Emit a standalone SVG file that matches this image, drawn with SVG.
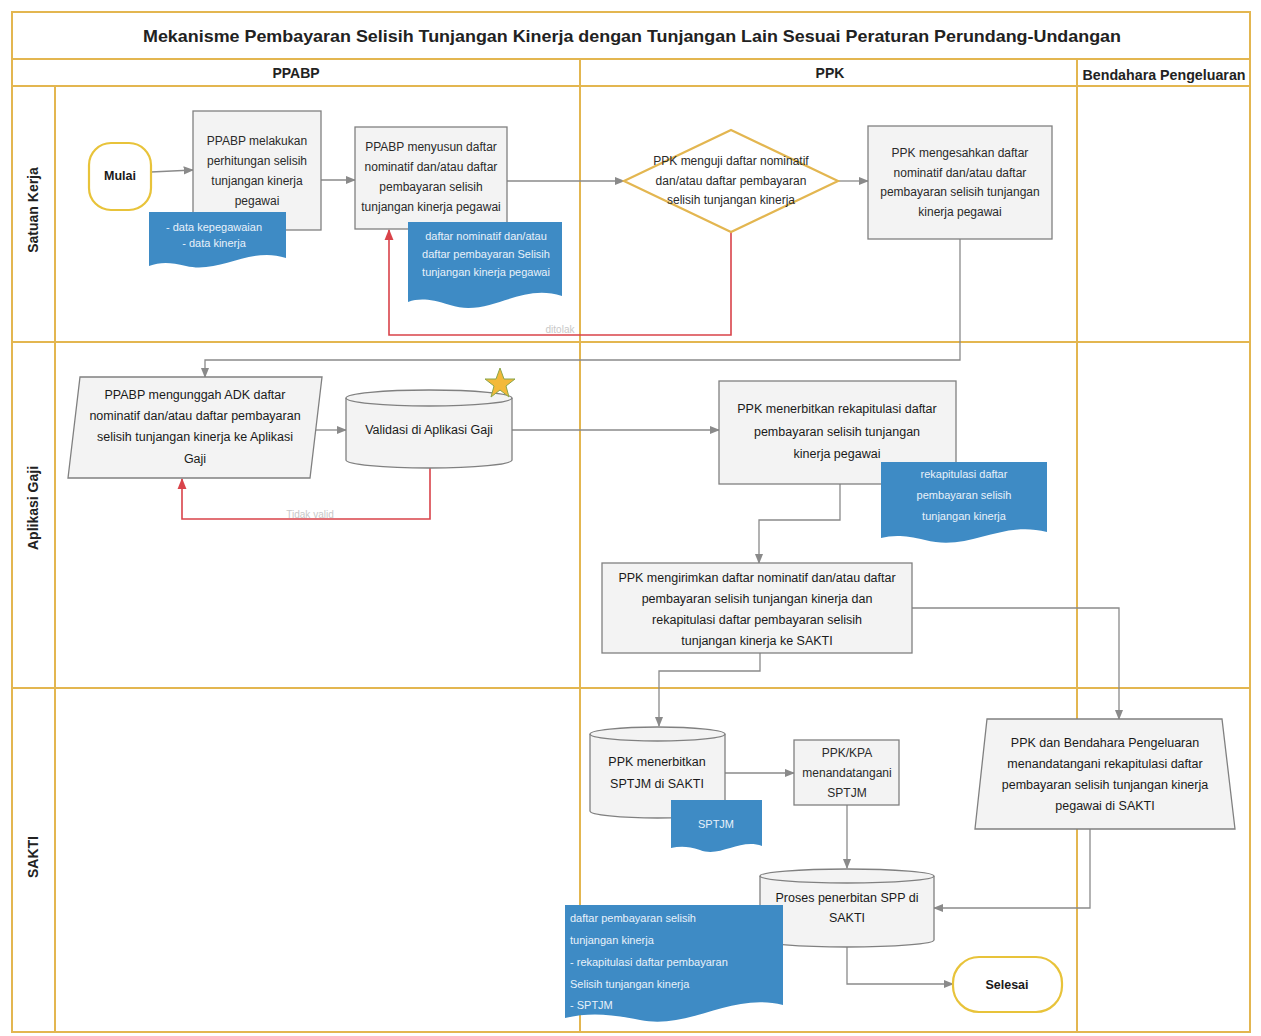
<svg xmlns="http://www.w3.org/2000/svg" width="1261" height="1036" viewBox="0 0 1261 1036">
<defs>
<style>
.lane{fill:none;stroke:#e3b650;stroke-width:2}
.box{fill:#f3f3f3;stroke:#808080;stroke-width:1.3}
.term{fill:#fff;stroke:#e8c33a;stroke-width:2.2}
.doc{fill:#3e8bc5}
.t{font-family:"Liberation Sans",Arial,sans-serif;font-size:12px;fill:#2a2a2a;text-anchor:middle}
.tb{font-family:"Liberation Sans",Arial,sans-serif;font-size:12.5px;fill:#1a1a1a;text-anchor:middle}
.tw{font-family:"Liberation Sans",Arial,sans-serif;font-size:11px;fill:#e8f1fa;text-anchor:middle}
.twl{font-family:"Liberation Sans",Arial,sans-serif;font-size:11px;fill:#e8f1fa}
.hd{font-family:"Liberation Sans Narrow","Liberation Sans",Arial,sans-serif;font-size:14px;font-weight:bold;fill:#222;text-anchor:middle}
.c{fill:none;stroke:#8a8a8a;stroke-width:1.3}
.r{fill:none;stroke:#d9434a;stroke-width:1.6}
.lbl{font-family:"Liberation Sans",Arial,sans-serif;font-size:10px;fill:#c8c8c8;text-anchor:middle}
</style>
<marker id="ag" viewBox="0 0 10 10" refX="9" refY="5" markerWidth="8" markerHeight="8" orient="auto"><path d="M0,1 L10,5 L0,9 z" fill="#8a8a8a"/></marker>
<marker id="ar" viewBox="0 0 10 10" refX="9" refY="5" markerWidth="7" markerHeight="7" orient="auto"><path d="M0,1 L10,5 L0,9 z" fill="#d9434a"/></marker>
</defs>
<rect width="1261" height="1036" fill="#fff"/>

<g id="frame">
<rect x="12" y="12" width="1238" height="1020" class="lane"/>
<line x1="12" y1="59" x2="1250" y2="59" class="lane"/>
<line x1="12" y1="86" x2="1250" y2="86" class="lane"/>
<line x1="55" y1="86" x2="55" y2="1032" class="lane"/>
<line x1="580" y1="59" x2="580" y2="1032" class="lane"/>
<line x1="1077" y1="59" x2="1077" y2="1032" class="lane"/>
<line x1="12" y1="342" x2="1250" y2="342" class="lane"/>
<line x1="12" y1="688" x2="1250" y2="688" class="lane"/>
<text x="632" y="42" font-family="'Liberation Sans Narrow','Liberation Sans',Arial,sans-serif" font-size="17" font-weight="bold" fill="#222" text-anchor="middle" textLength="978" lengthAdjust="spacingAndGlyphs">Mekanisme Pembayaran Selisih Tunjangan Kinerja dengan Tunjangan Lain Sesuai Peraturan Perundang-Undangan</text>
<text x="296" y="78" class="hd">PPABP</text>
<text x="830" y="78" class="hd">PPK</text>
<text x="1164" y="80" class="hd" textLength="163" lengthAdjust="spacingAndGlyphs">Bendahara Pengeluaran</text>
<text transform="translate(38,210) rotate(-90)" class="hd">Satuan Kerja</text>
<text transform="translate(38,508) rotate(-90)" class="hd">Aplikasi Gaji</text>
<text transform="translate(38,857) rotate(-90)" class="hd">SAKTI</text>
</g>

<g id="connectors">
<path class="c" d="M151,172 L193,170" marker-end="url(#ag)"/>
<path class="c" d="M321,180 L355,180" marker-end="url(#ag)"/>
<path class="c" d="M507,181 L624,181" marker-end="url(#ag)"/>
<path class="c" d="M838,181 L868,181" marker-end="url(#ag)"/>
<path class="r" d="M731,232 V335 H389 V230" marker-end="url(#ar)"/>
<text x="560" y="333" class="lbl">ditolak</text>
<path class="c" d="M960,239 V360 H205 V377" marker-end="url(#ag)"/>
<path class="c" d="M316,430 L346,430" marker-end="url(#ag)"/>
<path class="r" d="M430,466 V519 H182 V479" marker-end="url(#ar)"/>
<text x="310" y="518" class="lbl">Tidak valid</text>
<path class="c" d="M512,430 L719,430" marker-end="url(#ag)"/>
<path class="c" d="M840,484 V520 H759 V563" marker-end="url(#ag)"/>
<path class="c" d="M760,653 V671 H659 V726" marker-end="url(#ag)"/>
<path class="c" d="M912,608 H1119 V719" marker-end="url(#ag)"/>
<path class="c" d="M725,773 L794,773" marker-end="url(#ag)"/>
<path class="c" d="M847,805 V868" marker-end="url(#ag)"/>
<path class="c" d="M1090,829 V908 H934" marker-end="url(#ag)"/>
<path class="c" d="M847,946 V984 H953" marker-end="url(#ag)"/>
</g>

<g id="mulai">
<rect x="89" y="143" width="62" height="67" rx="22" class="term"/>
<text x="120" y="180" class="tb" font-weight="bold">Mulai</text>
</g>

<g id="hitung">
<rect x="193" y="111" width="128" height="119" class="box"/>
<text class="t"><tspan x="257" y="145">PPABP melakukan</tspan><tspan x="257" y="165">perhitungan selisih</tspan><tspan x="257" y="185">tunjangan kinerja</tspan><tspan x="257" y="205">pegawai</tspan></text>
</g>

<g id="doc-data">
<path class="doc" d="M149,212 H286 V258 C250,246 220,274 186,266 C170,262 160,262 149,266 Z"/>
<text class="tw"><tspan x="214" y="231">- data kepegawaian</tspan><tspan x="214" y="247">- data kinerja</tspan></text>
</g>

<g id="susun">
<rect x="355" y="127" width="152" height="102" class="box"/>
<text class="t" font-size="11.5"><tspan x="431" y="151">PPABP menyusun daftar</tspan><tspan x="431" y="171">nominatif dan/atau daftar</tspan><tspan x="431" y="191">pembayaran selisih</tspan><tspan x="431" y="211">tunjangan kinerja pegawai</tspan></text>
</g>

<g id="doc-daftar">
<path class="doc" d="M408,222 H562 V296 C520,282 490,318 450,305 C430,299 420,298 408,302 Z"/>
<text class="tw"><tspan x="486" y="240">daftar nominatif dan/atau</tspan><tspan x="486" y="258">daftar pembayaran Selisih</tspan><tspan x="486" y="276">tunjangan kinerja pegawai</tspan></text>
</g>

<g id="uji">
<polygon points="731,130 838,181 731,232 624,181" fill="#fff" stroke="#e3b650" stroke-width="2.2"/>
<text class="t" font-size="11"><tspan x="731" y="165">PPK menguji daftar nominatif</tspan><tspan x="731" y="185">dan/atau daftar pembayaran</tspan><tspan x="731" y="204">selisih tunjangan kinerja</tspan></text>
</g>

<g id="sahkan">
<rect x="868" y="126" width="184" height="113" class="box"/>
<text class="t" font-size="11.5"><tspan x="960" y="157">PPK mengesahkan daftar</tspan><tspan x="960" y="177">nominatif dan/atau daftar</tspan><tspan x="960" y="196">pembayaran selisih tunjangan</tspan><tspan x="960" y="216">kinerja pegawai</tspan></text>
</g>

<g id="unggah">
<polygon points="80,377 322,377 310,478 68,478" class="box"/>
<text class="tb" font-size="12"><tspan x="195" y="399">PPABP mengunggah ADK daftar</tspan><tspan x="195" y="420">nominatif dan/atau daftar pembayaran</tspan><tspan x="195" y="441">selisih tunjangan kinerja ke Aplikasi</tspan><tspan x="195" y="463">Gaji</tspan></text>
</g>

<g id="validasi">
<path class="box" d="M346,398 A83,8 0 0 1 512,398 V460 A83,8 0 0 1 346,460 Z"/>
<path d="M346,398 A83,8 0 0 0 512,398" fill="none" stroke="#808080" stroke-width="1.3"/>
<text x="429" y="434" class="tb">Validasi di Aplikasi Gaji</text>
<polygon points="500,368 504,379 515,379 506,386 509,397 500,390 491,397 494,386 485,379 496,379" fill="#f3b93a" stroke="#8aa64a" stroke-width="1"/>
</g>

<g id="rekap">
<rect x="719" y="381" width="237" height="103" class="box"/>
<text class="tb"><tspan x="837" y="413">PPK menerbitkan rekapitulasi daftar</tspan><tspan x="837" y="436">pembayaran selisih tunjangan</tspan><tspan x="837" y="458">kinerja pegawai</tspan></text>
</g>

<g id="doc-rekap">
<path class="doc" d="M881,462 H1047 V532 C1000,520 970,552 925,540 C905,535 893,535 881,538 Z"/>
<text class="tw"><tspan x="964" y="478">rekapitulasi daftar</tspan><tspan x="964" y="499">pembayaran selisih</tspan><tspan x="964" y="520">tunjangan kinerja</tspan></text>
</g>

<g id="kirim">
<rect x="602" y="563" width="310" height="90" class="box"/>
<text class="tb"><tspan x="757" y="582">PPK mengirimkan daftar nominatif dan/atau daftar</tspan><tspan x="757" y="603">pembayaran selisih tunjangan kinerja dan</tspan><tspan x="757" y="624">rekapitulasi daftar pembayaran selisih</tspan><tspan x="757" y="645">tunjangan kinerja ke SAKTI</tspan></text>
</g>

<g id="sptjm">
<path class="box" d="M590,734 A67.5,7 0 0 1 725,734 V811 A67.5,7 0 0 1 590,811 Z"/>
<path d="M590,734 A67.5,7 0 0 0 725,734" fill="none" stroke="#808080" stroke-width="1.3"/>
<text class="tb"><tspan x="657" y="766">PPK menerbitkan</tspan><tspan x="657" y="788">SPTJM di SAKTI</tspan></text>
</g>

<g id="doc-sptjm">
<path class="doc" d="M671,800 H762 V846 C740,838 720,858 700,850 C688,846 680,846 671,848 Z"/>
<text x="716" y="828" class="tw">SPTJM</text>
</g>

<g id="ttd">
<rect x="794" y="740" width="105" height="65" class="box"/>
<text class="t"><tspan x="847" y="757">PPK/KPA</tspan><tspan x="847" y="777">menandatangani</tspan><tspan x="847" y="797">SPTJM</tspan></text>
</g>

<g id="ttd-bendahara">
<polygon points="987,719 1222,719 1235,829 975,829" class="box"/>
<text class="tb" font-size="12"><tspan x="1105" y="747">PPK dan Bendahara Pengeluaran</tspan><tspan x="1105" y="768">menandatangani rekapitulasi daftar</tspan><tspan x="1105" y="789">pembayaran selisih tunjangan kinerja</tspan><tspan x="1105" y="810">pegawai di SAKTI</tspan></text>
</g>

<g id="spp">
<path class="box" d="M760,876 A87,7 0 0 1 934,876 V940 A87,7 0 0 1 760,940 Z"/>
<path d="M760,876 A87,7 0 0 0 934,876" fill="none" stroke="#808080" stroke-width="1.3"/>
<text class="tb"><tspan x="847" y="902">Proses penerbitan SPP di</tspan><tspan x="847" y="922">SAKTI</tspan></text>
</g>

<g id="doc-akhir">
<path class="doc" d="M565,905 H783 V1005 C730,992 690,1030 640,1020 C610,1014 590,1012 565,1018 Z"/>
<text class="twl"><tspan x="570" y="922">daftar pembayaran selisih</tspan><tspan x="570" y="944">tunjangan kinerja</tspan><tspan x="570" y="966">- rekapitulasi daftar pembayaran</tspan><tspan x="570" y="988">Selisih tunjangan kinerja</tspan><tspan x="570" y="1009">- SPTJM</tspan></text>
</g>

<g id="selesai">
<rect x="953" y="957" width="109" height="55" rx="26" class="term"/>
<text x="1007" y="989" class="tb" font-weight="bold">Selesai</text>
</g>
</svg>
